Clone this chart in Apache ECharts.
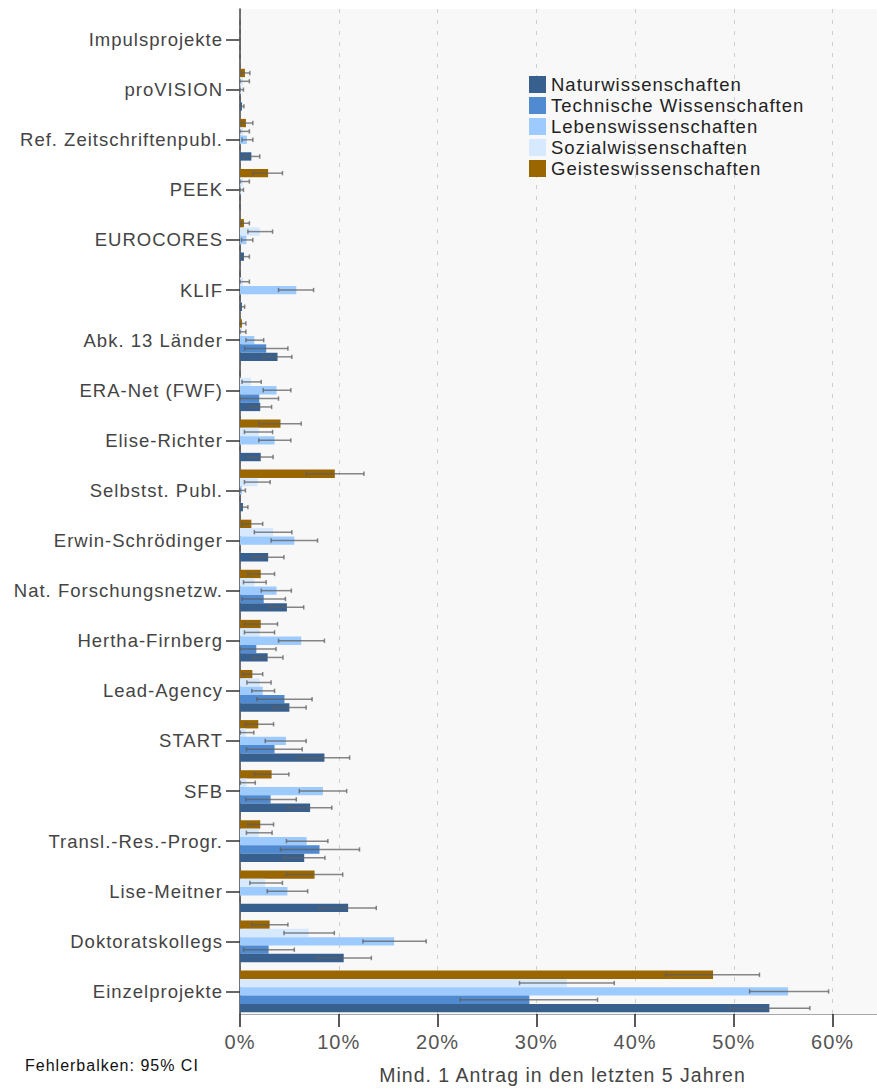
<!DOCTYPE html>
<html>
<head>
<meta charset="utf-8">
<script src="https://cdn.jsdelivr.net/npm/echarts@6/dist/echarts.min.js"></script>
<style>
  html, body { margin: 0; padding: 0; background: #ffffff; }
  #chart { width: 877px; height: 1090px; }
  #chart text { letter-spacing: 1px; }
</style>
</head>
<body>
<div id="chart"></div>
<script>
const categories = ['Impulsprojekte','proVISION','Ref. Zeitschriftenpubl.','PEEK','EUROCORES','KLIF','Abk. 13 Länder','ERA-Net (FWF)','Elise-Richter','Selbstst. Publ.','Erwin-Schrödinger','Nat. Forschungsnetzw.','Hertha-Firnberg','Lead-Agency','START','SFB','Transl.-Res.-Progr.','Lise-Meitner','Doktoratskollegs','Einzelprojekte'];

const seriesNames = ['Naturwissenschaften','Technische Wissenschaften','Lebenswissenschaften','Sozialwissenschaften','Geisteswissenschaften'];

const naturValues = [0, 0.2, 1.15, 0, 0.4, 0.2, 3.8, 2.05, 2.1, 0.3, 2.85, 4.75, 2.8, 5.0, 8.55, 7.1, 6.5, 10.95, 10.5, 53.6];
const naturLow    = [0, 0, 0.4, 0, 0.1, 0, 2.35, 1.0, 0.8, 0.05, 1.3, 3.0, 1.3, 3.4, 5.9, 4.85, 4.45, 8.05, 7.75, 49.6];
const naturHigh   = [0, 0.4, 2.0, 0, 0.95, 0.47, 5.25, 3.2, 3.35, 0.8, 4.45, 6.45, 4.35, 6.7, 11.1, 9.3, 8.6, 13.8, 13.3, 57.7];

const technValues = [0, 0, 0, 0, 0, 0, 2.65, 1.95, 0, 0, 0, 2.4, 1.65, 4.5, 3.5, 3.1, 8.05, 0, 2.9, 29.3];
const technLow    = [0, 0, 0, 0, 0, 0, 0.47, 0.03, 0, 0, 0, 0.2, 0.03, 1.7, 0.65, 0.6, 4.1, 0, 0.37, 22.3];
const technHigh   = [0, 0, 0, 0, 0, 0, 4.85, 3.9, 0, 0, 0, 4.6, 3.65, 7.3, 6.3, 5.7, 12.1, 0, 5.5, 36.2];

const lebenValues = [0, 0.1, 0.7, 0.1, 0.65, 5.7, 1.45, 3.7, 3.5, 0.2, 5.5, 3.7, 6.2, 2.3, 4.65, 8.4, 6.75, 4.8, 15.6, 55.5];
const lebenLow    = [0, 0, 0.2, 0, 0.15, 3.9, 0.6, 2.35, 1.9, 0, 3.15, 2.15, 3.9, 1.2, 2.55, 6.0, 4.7, 2.75, 12.45, 51.6];
const lebenHigh   = [0, 0.35, 1.3, 0.35, 1.3, 7.45, 2.4, 5.15, 5.15, 0.55, 7.85, 5.2, 8.55, 3.5, 6.7, 10.8, 8.9, 6.85, 18.85, 59.6];

const sozialValues = [0, 0.3, 0.3, 0.3, 2.0, 0.3, 0.2, 1.1, 1.9, 1.8, 3.35, 1.45, 2.0, 2.0, 0.55, 0.65, 1.9, 2.55, 6.95, 33.1];
const sozialLow    = [0, 0, 0, 0, 0.8, 0, 0, 0.2, 0.45, 0.45, 1.45, 0.35, 0.45, 0.7, 0.03, 0.03, 0.65, 1.0, 4.45, 28.3];
const sozialHigh   = [0, 0.95, 0.95, 0.95, 3.3, 0.95, 0.6, 2.15, 3.3, 3.05, 5.25, 2.65, 3.5, 3.15, 1.4, 1.55, 3.25, 4.3, 9.55, 37.9];

const geistValues = [0, 0.5, 0.6, 2.85, 0.4, 0, 0.2, 0, 4.1, 9.6, 1.15, 2.1, 2.1, 1.25, 1.85, 3.2, 2.05, 7.55, 3.0, 47.9];
const geistLow    = [0, 0.1, 0.15, 1.3, 0.1, 0, 0, 0, 1.9, 6.7, 0.2, 0.8, 0.45, 0.3, 0.55, 1.45, 0.8, 4.7, 1.2, 43.1];
const geistHigh   = [0, 1.0, 1.3, 4.3, 0.95, 0, 0.6, 0, 6.2, 12.55, 2.3, 3.5, 3.8, 2.3, 3.4, 4.95, 3.4, 10.4, 4.85, 52.6];

const xTicks = [0, 10, 20, 30, 40, 50, 60];

const colors = {
  'Naturwissenschaften': '#37608f',
  'Technische Wissenschaften': '#508ad0',
  'Lebenswissenschaften': '#9ecbff',
  'Sozialwissenschaften': '#d6e9ff',
  'Geisteswissenschaften': '#9a6600'
};

// drawing order from top of each group to bottom
const groups = [
  { name: 'Geisteswissenschaften', values: geistValues, low: geistLow, high: geistHigh },
  { name: 'Sozialwissenschaften', values: sozialValues, low: sozialLow, high: sozialHigh },
  { name: 'Lebenswissenschaften', values: lebenValues, low: lebenLow, high: lebenHigh },
  { name: 'Technische Wissenschaften', values: technValues, low: technLow, high: technHigh },
  { name: 'Naturwissenschaften', values: naturValues, low: naturLow, high: naturHigh }
];

const CAT_GAP = 0.167;
const FONT = "'Liberation Sans', Arial, sans-serif";

const errData = [];
groups.forEach((g, p) => {
  categories.forEach((c, i) => { errData.push([i, p, g.low[i], g.high[i]]); });
});

function renderErr(params, api) {
  const cat = api.value(0), pos = api.value(1), lo = api.value(2), hi = api.value(3);
  const band = api.size([0, 1])[1];
  const total = band * (1 - CAT_GAP);
  const bw = total / groups.length;
  const off = -total / 2 + bw * (pos + 0.5);
  const a = api.coord([lo, cat]);
  const b = api.coord([hi, cat]);
  const y = a[1] + off;
  const cap = 2.2;
  const st = { stroke: 'rgba(95,95,95,0.75)', lineWidth: 1.5 };
  return {
    type: 'group',
    children: [
      { type: 'line', shape: { x1: a[0], y1: y, x2: b[0], y2: y }, style: st },
      { type: 'line', shape: { x1: a[0], y1: y - cap, x2: a[0], y2: y + cap }, style: st },
      { type: 'line', shape: { x1: b[0], y1: y - cap, x2: b[0], y2: y + cap }, style: st }
    ]
  };
}

const chart = echarts.init(document.getElementById('chart'), null, { renderer: 'svg' });

const series = groups.map(g => ({
  name: g.name,
  type: 'bar',
  xAxisIndex: 0,
  yAxisIndex: 0,
  data: g.values,
  barGap: '0%',
  barCategoryGap: (CAT_GAP * 100) + '%',
  itemStyle: { color: colors[g.name] },
  emphasis: { disabled: true },
  silent: true
}));

series.push({
  type: 'custom',
  name: 'err',
  xAxisIndex: 0,
  yAxisIndex: 0,
  renderItem: renderErr,
  encode: { x: [2, 3], y: 0 },
  data: errData,
  z: 5,
  silent: true
});

chart.setOption({
  animation: false,
  textStyle: { fontFamily: FONT },
  grid: [
    { left: 240, right: 0, top: 14.5, bottom: 73.5 },
    { left: 240, right: 0, top: 9, bottom: 68, show: true, backgroundColor: '#f8f8f8', borderWidth: 0 }
  ],
  xAxis: [
    { type: 'value', gridIndex: 0, min: 0, max: 64.5, show: false },
    {
      type: 'value', gridIndex: 1, min: 0, max: 64.5, interval: 10,
      axisLine: { show: true, onZero: false, lineStyle: { color: '#a8a8a8', width: 1 } },
      axisTick: { show: true, length: 13, customValues: xTicks, lineStyle: { color: '#222', width: 1.5 } },
      axisLabel: { margin: 18, fontSize: 20, color: '#555', fontFamily: FONT, customValues: xTicks, formatter: v => v + '%' },
      splitLine: { show: true, lineStyle: { color: '#cfcfcf', type: [4, 7], width: 1 } },
      name: 'Mind. 1 Antrag in den letzten 5 Jahren',
      nameLocation: 'middle',
      nameGap: 51,
      nameTextStyle: { fontSize: 19.5, color: '#444', fontFamily: FONT, padding: [0, 0, 0, 8] }
    }
  ],
  yAxis: [
    {
      type: 'category', gridIndex: 0, inverse: true, data: categories,
      axisLine: { show: false },
      axisTick: { show: true, alignWithLabel: true, length: 14, lineStyle: { color: '#333', width: 1.5 } },
      axisLabel: { margin: 17, fontSize: 18.5, color: '#444', fontFamily: FONT, padding: [3, 0, 0, 0] },
      splitLine: { show: false }
    },
    {
      type: 'value', gridIndex: 1, min: 0, max: 1,
      axisLine: { show: true, onZero: false, lineStyle: { color: '#444', width: 1.5 } },
      axisTick: { show: false }, axisLabel: { show: false }, splitLine: { show: false }
    }
  ],
  legend: {
    data: seriesNames,
    orient: 'vertical',
    left: 529,
    top: 75,
    padding: 0,
    itemWidth: 17,
    itemHeight: 17,
    itemGap: 2,
    icon: 'rect',
    selectedMode: false,
    textStyle: { fontSize: 18.5, color: '#222', fontFamily: FONT }
  },
  graphic: [
    {
      type: 'text', left: 25, top: 1057,
      style: { text: 'Fehlerbalken: 95% CI', fontSize: 16, fill: '#111', fontFamily: FONT }
    }
  ],
  series: series
});
</script>
</body>
</html>
